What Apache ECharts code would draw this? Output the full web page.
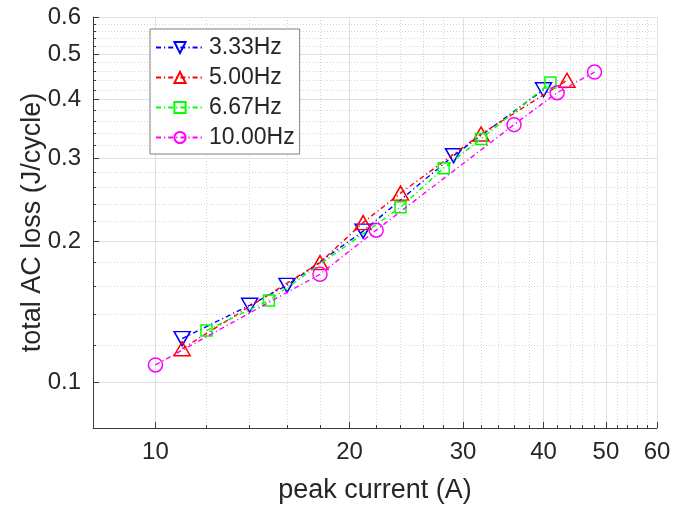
<!DOCTYPE html>
<html>
<head>
<meta charset="utf-8">
<script src="https://cdn.jsdelivr.net/npm/echarts@6/dist/echarts.min.js"></script>
<style>html,body{margin:0;padding:0;background:#fff;}#c{width:686px;height:509px;}</style>
</head>
<body>
<div id="c"></div>
<script>
// ---- data ----
const seriesNames = ['3.33Hz', '5.00Hz', '6.67Hz', '10.00Hz'];
const current333 = [11, 14, 16, 21, 29, 40];
const loss333    = [0.124, 0.146, 0.161, 0.210, 0.304, 0.420];
const current500 = [11, 18, 21, 24, 32, 43.5];
const loss500    = [0.118, 0.180, 0.219, 0.253, 0.338, 0.440];
const current667 = [12, 15, 24, 28, 32, 41];
const loss667    = [0.129, 0.1495, 0.236, 0.286, 0.330, 0.435];
const current1000 = [10, 18, 22, 36, 42, 48];
const loss1000    = [0.109, 0.170, 0.211, 0.354, 0.414, 0.458];

const xMajorTicks = [10, 20, 30, 40, 50, 60];
const xMinorTicks = [12,14,16,18, 22,24,26,28, 32,34,36,38, 42,44,46,48, 52,54,56,58];
const yMajorTicks = [0.1, 0.2, 0.3, 0.4, 0.5, 0.6];
const yMinorTicks = [0.12,0.14,0.16,0.18, 0.22,0.24,0.26,0.28, 0.32,0.34,0.36,0.38, 0.42,0.44,0.46,0.48, 0.52,0.54,0.56,0.58];
const xName = 'peak current (A)';
const yName = 'total AC loss (J/cycle)';

// ---- styles ----
const FONT = 'Liberation Sans';
const TXT = '#262626';
const AX = '#3a3a3a';
const colors = ['#0000ff', '#ff0000', '#00ff00', '#ff00ff'];
const symbols = ['path://M0,0 L10,0 L5,8.7 Z', 'path://M5,0 L10,8.7 L0,8.7 Z', 'rect', 'circle'];
const sizes = [[16, 14], [16, 14], 11, 14];
const dash = [5, 3, 1.2, 3];
const pairs = [[current333, loss333], [current500, loss500], [current667, loss667], [current1000, loss1000]];

function zip(a, b) { return a.map((v, i) => [v, b[i]]); }

const series = seriesNames.map((name, i) => ({
  name: name,
  type: 'line',
  xAxisIndex: 0,
  yAxisIndex: 0,
  data: zip(pairs[i][0], pairs[i][1]),
  symbol: symbols[i],
  symbolSize: sizes[i],
  lineStyle: { color: colors[i], width: 1.4, type: dash },
  itemStyle: { color: 'rgba(255,255,255,0)', borderColor: colors[i], borderWidth: 1.5 },
  emphasis: { disabled: true },
  z: 3 + i
}));

const grid = { left: 93, top: 17, width: 564, height: 415, containLabel: false };

const option = {
  animation: false,
  backgroundColor: '#ffffff',
  grid: grid,
  legend: {
    orient: 'vertical',
    left: 150, top: 29,
    padding: [7, 5, 5, 5],
    itemGap: 7,
    itemWidth: 48,
    itemHeight: 14,
    backgroundColor: '#ffffff',
    borderColor: '#7f7f7f',
    borderWidth: 1,
    borderRadius: 0,
    textStyle: { fontFamily: FONT, fontSize: 23, color: TXT },
    data: seriesNames
  },
  xAxis: [
    {
      type: 'log', logBase: 10, min: 8, max: 60, position: 'bottom',
      name: xName, nameLocation: 'middle', nameGap: 49,
      nameTextStyle: { fontFamily: FONT, fontSize: 27, color: TXT },
      axisLine: { show: true, lineStyle: { color: AX, width: 1 } },
      axisTick: { show: true, inside: true, length: 6, customValues: xMajorTicks, lineStyle: { color: AX } },
      axisLabel: { show: true, customValues: xMajorTicks, margin: 12, fontFamily: FONT, fontSize: 24, color: TXT },
      splitLine: { show: true, lineStyle: { color: '#e0e0e0', width: 1, type: 'solid' } },
      minorTick: { show: false }, minorSplitLine: { show: false }
    },
    {
      type: 'log', logBase: 10, min: 8, max: 60, position: 'bottom', offset: 0,
      axisLine: { show: false },
      axisTick: { show: true, inside: true, length: 3, customValues: xMinorTicks, lineStyle: { color: AX } },
      axisLabel: { show: false },
      splitLine: { show: true, lineStyle: { color: '#d4d4d4', width: 1, type: [1, 2] } }
    }
  ],
  yAxis: [
    {
      type: 'log', logBase: 10, min: 0.08, max: 0.6, position: 'left',
      name: yName, nameLocation: 'middle', nameGap: 47, nameMoveOverlap: false,
      nameTextStyle: { fontFamily: FONT, fontSize: 27, color: TXT },
      axisLine: { show: true, lineStyle: { color: AX, width: 1 } },
      axisTick: { show: true, inside: true, length: 6, customValues: yMajorTicks, lineStyle: { color: AX } },
      axisLabel: { show: true, customValues: yMajorTicks, margin: 12, fontFamily: FONT, fontSize: 24, color: TXT,
                   formatter: v => String(Math.round(v * 10) / 10) },
      splitLine: { show: true, lineStyle: { color: '#e0e0e0', width: 1, type: 'solid' } },
      minorTick: { show: false }, minorSplitLine: { show: false }
    },
    {
      type: 'log', logBase: 10, min: 0.08, max: 0.6, position: 'left', offset: 0,
      axisLine: { show: false },
      axisTick: { show: true, inside: true, length: 3, customValues: yMinorTicks, lineStyle: { color: AX } },
      axisLabel: { show: false },
      splitLine: { show: true, lineStyle: { color: '#d4d4d4', width: 1, type: [1, 2] } }
    }
  ],
  series: series
};

const chart = echarts.init(document.getElementById('c'), null, { renderer: 'canvas' });
chart.setOption(option);
</script>
</body>
</html>
